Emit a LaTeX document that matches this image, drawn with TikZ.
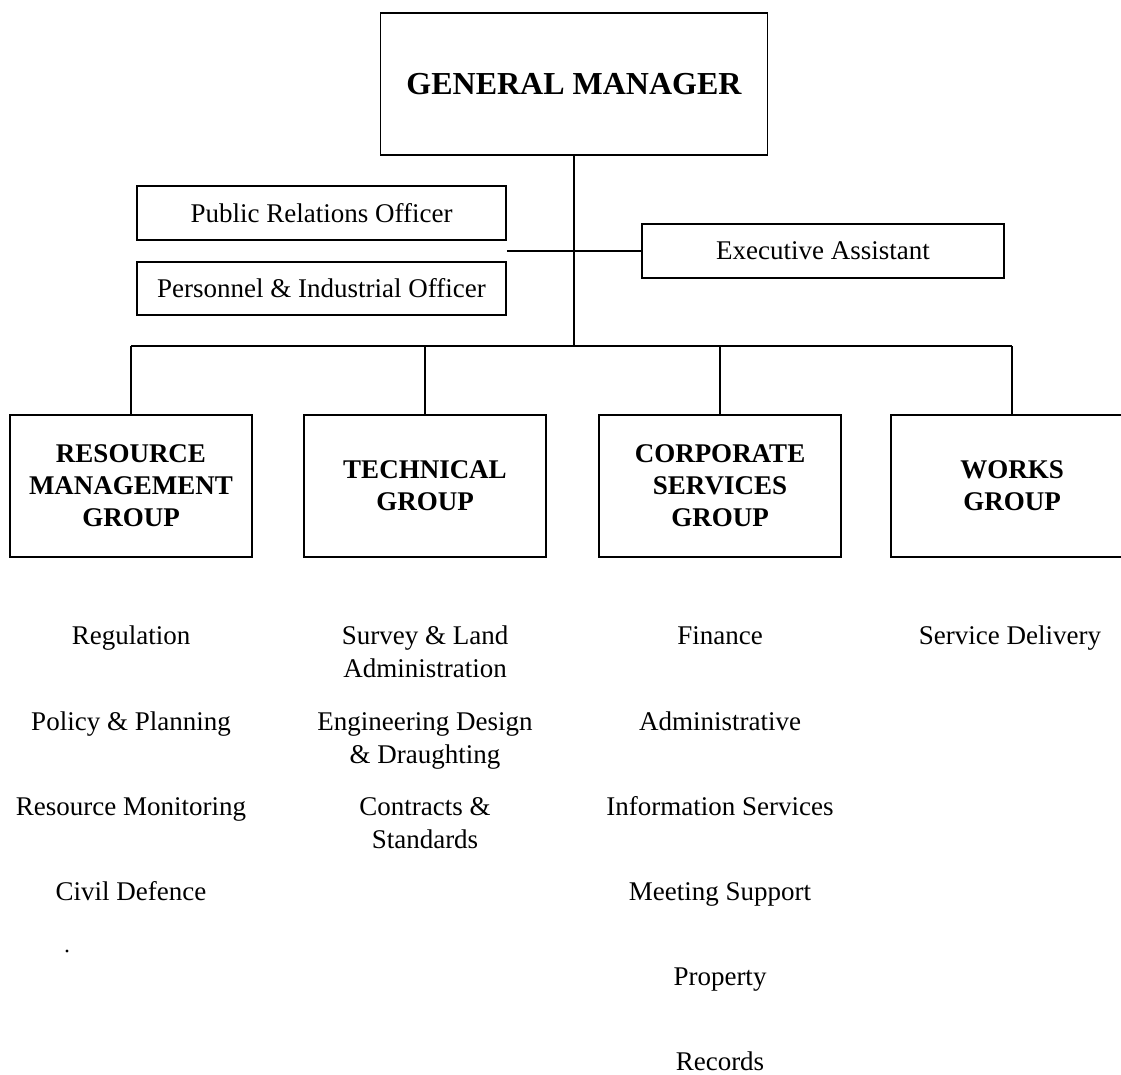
\documentclass[tikz,border=0pt]{standalone}
\usepackage{fontspec}
\setmainfont{Liberation Serif}
% type sizes used in the chart
\newcommand\orgTopFont{\fontsize{32}{38}\selectfont\bfseries}
\newcommand\orgGroupFont{\fontsize{27}{32}\selectfont\bfseries}
\newcommand\orgTextFont{\fontsize{27}{33}\selectfont}
\begin{document}
\begin{tikzpicture}[x=1pt,y=-1pt,
  box/.style={draw, line width=1.8pt, inner sep=0pt, align=center},
  topbox/.style={box, minimum width=387pt, minimum height=142pt, font=\orgTopFont},
  grp/.style={box, minimum width=242pt, minimum height=142pt, font=\orgGroupFont},
  staff/.style={box, minimum height=54pt, font=\orgTextFont},
  unit/.style={font=\orgTextFont, align=center, inner sep=0pt, anchor=north, yshift=23.1pt},
  link/.style={line width=1.8pt}]
\useasboundingbox (0,0) rectangle (1121,1074);
\clip (0,0) rectangle (1121,1074);
\fill[white] (0,0) rectangle (1121,1074);

% head of the organisation and staff positions
\node[topbox] (gm) at (574,84) {GENERAL MANAGER};
\node[staff, minimum width=369pt] (pro) at (321.5,213) {Public Relations Officer};
\node[staff, minimum width=369pt, minimum height=53pt] (pio) at (321.5,288.5) {Personnel \& Industrial Officer};
\node[staff, minimum width=362pt] (ea) at (823,251) {Executive Assistant};

% the four groups
\node[grp] (rmg) at (131,486) {RESOURCE\\MANAGEMENT\\GROUP};
\node[grp] (tg)  at (425,486) {TECHNICAL\\GROUP};
\node[grp] (csg) at (720,486) {CORPORATE\\SERVICES\\GROUP};
\node[grp] (wg)  at (1012,486) {WORKS\\GROUP};

% connectors
\coordinate (bus) at (574,346);
\draw[link] (gm.south) -- (gm.south |- bus);
\draw[link] (pro.east |- ea.west) -- (ea.west);
\draw[link] (rmg.north |- bus) -- (wg.north |- bus);
\foreach \g in {rmg,tg,csg,wg} \draw[link] (\g.north |- bus) -- (\g.north);

% units of the Resource Management Group
\node[unit] (rm1) at (131,644) {\strut Regulation};
\node[unit] (rm2) at (131,730) {\strut Policy \& Planning};
\node[unit] (rm3) at (131,815) {\strut Resource Monitoring};
\node[unit] (rm4) at (131,900) {\strut Civil Defence};

% units of the Technical Group
\node[unit] (tg1) at (425,644) {\strut Survey \& Land\\Administration};
\node[unit] (tg2) at (425,730) {\strut Engineering Design\\\& Draughting};
\node[unit] (tg3) at (425,815) {\strut Contracts \&\\Standards};

% units of the Corporate Services Group
\node[unit] (cs1) at (720,644) {\strut Finance};
\node[unit] (cs2) at (720,730) {\strut Administrative};
\node[unit] (cs3) at (720,815) {\strut Information Services};
\node[unit] (cs4) at (720,900) {\strut Meeting Support};
\node[unit] (cs5) at (720,985) {\strut Property};
\node[unit] (cs6) at (720,1070) {\strut Records};

% unit of the Works Group
\node[unit] (wg1) at (1010,644) {\strut Service Delivery};

% small ink dot
\fill (67,951) circle (1.6pt);
\end{tikzpicture}
\end{document}
